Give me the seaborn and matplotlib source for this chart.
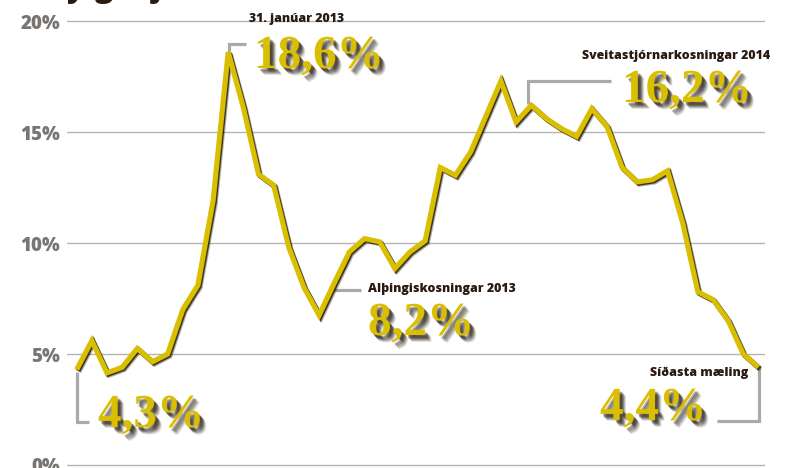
import numpy as np
import pandas as pd
import matplotlib
matplotlib.use("Agg")
import matplotlib.pyplot as plt
import matplotlib.patheffects as pe
import seaborn as sns

# ---------------- data ----------------
values = [4.3, 5.6, 4.15, 4.4, 5.25, 4.65, 5.0, 7.0, 8.1, 11.9,
          18.6, 16.1, 13.1, 12.6, 9.8, 8.0, 6.75, 8.2, 9.6, 10.2,
          10.05, 8.85, 9.6, 10.1, 13.4, 13.05, 14.1, 15.7, 17.3, 15.45,
          16.2, 15.6, 15.15, 14.8, 16.05, 15.25, 13.4, 12.75, 12.85, 13.25,
          10.9, 7.8, 7.45, 6.5, 5.0, 4.4]
period = list(range(len(values)))
ytick_values = [0, 5, 10, 15, 20]
ytick_labels = ["0%", "5%", "10%", "15%", "20%"]
title = "Fylgi Bjartrar framtíðar"
callout_titles = ["31. janúar 2013", "Sveitastjórnarkosningar 2014",
                  "Alþingiskosningar 2013", "Síðasta mæling"]
callout_values = ["18,6%", "16,2%", "8,2%", "4,3%", "4,4%"]

df = pd.DataFrame({"period": period, "fylgi": values})

# ---------------- style ----------------
sns.set_style("white")
plt.rcParams["font.family"] = ["Open Sans", "DejaVu Sans"]

GOLD = "#d9bf00"
DARK = "#2a1a10"
GRAY_TXT = "#787573"
GRID = "#b4b4b4"
BRACKET = "#a9a9a9"

W, H = 785, 468
fig = plt.figure(figsize=(W / 100, H / 100), dpi=100)
fig.patch.set_facecolor("white")
ax = fig.add_axes([67 / W, 0, (765 - 67) / W, 1])
ax.set_facecolor("white")

# ---------------- line ----------------
sns.lineplot(data=df, x="period", y="fylgi", ax=ax, color=GOLD, linewidth=3.7,
             zorder=5, legend=False)
line = ax.lines[-1]
line.set_solid_joinstyle("miter")
line.set_solid_capstyle("butt")
line.set_path_effects([
    pe.SimpleLineShadow(offset=(1.6, -1.6), shadow_color="#201800", alpha=0.35),
    pe.SimpleLineShadow(offset=(0.9, -0.9), shadow_color="#201800", alpha=0.8),
    pe.Normal(),
])

# pixel layout of the reference: index 0 at x=76.7, step 15.15 px; 0% at y=465, 22.2 px per %
X0, DX, Y0, DY = 76.7, 15.15, 465.0, 22.2
ax.set_xlim((67 - X0) / DX, (765 - X0) / DX)
ax.set_ylim((Y0 - H) / DY, Y0 / DY)


def P(px, py):
    """image pixel (from top-left) -> data coords"""
    return (px - X0) / DX, (Y0 - py) / DY


for s in ax.spines.values():
    s.set_visible(False)
ax.set_xticks([])
ax.set_yticks(ytick_values)
ax.set_yticklabels(ytick_labels)
ax.tick_params(axis="y", length=0, pad=5, labelsize=13.5, labelcolor=GRAY_TXT)
for t in ax.get_yticklabels():
    t.set_fontweight("heavy")
ax.set_xlabel("")
ax.set_ylabel("")
for yv in ytick_values:
    ax.axhline(yv, color=GRID, lw=1.0, zorder=1)

# ---------------- callout brackets ----------------
brackets = [
    [(229, 56), (229, 44), (246, 44)],
    [(528, 104), (528, 81), (611, 81)],
    [(334, 290), (361, 290)],
    [(77, 372), (77, 422), (89, 422)],
    [(759, 367), (759, 421), (717, 421)],
]
for br in brackets:
    pts = [P(*p) for p in br]
    ax.plot([p[0] for p in pts], [p[1] for p in pts], color=BRACKET, lw=2.3,
            solid_capstyle="butt", solid_joinstyle="miter", zorder=3)

# ---------------- texts ----------------
small_kw = dict(fontsize=8.9, fontweight="heavy", color=DARK, va="baseline",
                zorder=6)
ax.text(*P(249, 22), callout_titles[0], ha="left", **small_kw)
ax.text(*P(582, 59), callout_titles[1], ha="left", **small_kw)
ax.text(*P(368, 292), callout_titles[2], ha="left", **small_kw)
ax.text(*P(748, 376), callout_titles[3], ha="right", **small_kw)

shadow = [
    pe.SimplePatchShadow(offset=(o, -o * 1.1), shadow_rgbFace="#1e1408", alpha=a)
    for o, a in [(4.6, 0.12), (3.9, 0.2), (3.2, 0.28), (2.5, 0.32), (1.8, 0.32)]
] + [pe.Normal()]
big_kw = dict(fontsize=34, fontweight="bold", color=GOLD, va="baseline",
              ha="left", family=["Liberation Serif", "DejaVu Serif"], zorder=7,
              path_effects=shadow)
ax.text(*P(254, 68), callout_values[0], **big_kw)
ax.text(*P(622, 102), callout_values[1], **big_kw)
ax.text(*P(368, 335), callout_values[2], **big_kw)
ax.text(*P(98, 427), callout_values[3], **big_kw)
ax.text(*P(600, 420), callout_values[4], **big_kw)

# title, mostly cut off at the top of the image
fig.text(50 / W, 1 + 3.5 / H, title, fontsize=22, fontweight="heavy", color=DARK,
         ha="left", va="baseline")

fig.savefig("out.png", dpi=100, facecolor="white")
